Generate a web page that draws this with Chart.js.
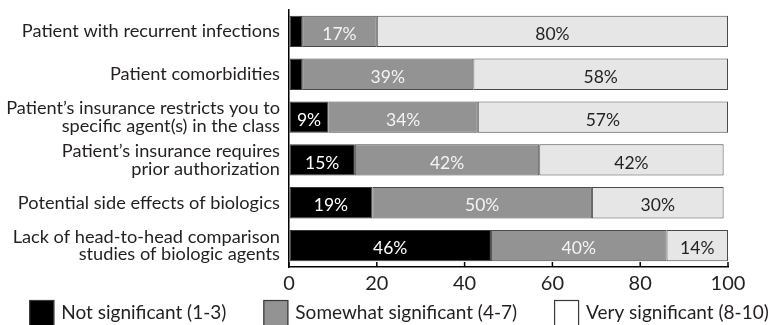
<!DOCTYPE html>
<html>
<head>
<meta charset="utf-8">
<script src="https://cdn.jsdelivr.net/npm/chart.js@4/dist/chart.umd.min.js"></script>
<style>
  html, body { margin: 0; padding: 0; background: #ffffff; overflow: hidden; }
  #wrap { width: 775px; height: 325px; }
</style>
</head>
<body>
<div id="wrap"><canvas id="factors" width="775" height="325"></canvas></div>
<script>
const categories = [
  'Patient with recurrent infections',
  'Patient comorbidities',
  ['Patient\u2019s insurance restricts you to', 'specific agent(s) in the class'],
  ['Patient\u2019s insurance requires', 'prior authorization'],
  'Potential side effects of biologics',
  ['Lack of head-to-head comparison', 'studies of biologic agents']
];

const notSignificant = [3, 3, 9, 15, 19, 46];
const somewhatSignificant = [17, 39, 34, 42, 50, 40];
const verySignificant = [80, 58, 57, 42, 30, 14];

const seriesNames = ['Not significant (1-3)', 'Somewhat significant (4-7)', 'Very significant (8-10)'];
const xTicks = [0, 20, 40, 60, 80, 100];

const FONT = 'Lato, "Noto Sans", sans-serif';
const INK = '#231f20';

// percentage text in the middle of each segment (skip the slivers)
const valueLabels = {
  id: 'valueLabels',
  afterDatasetsDraw(chart) {
    const ctx = chart.ctx;
    ctx.save();
    ctx.font = '17.5px ' + FONT;
    ctx.textAlign = 'center';
    ctx.textBaseline = 'middle';
    chart.data.datasets.forEach((ds, i) => {
      const meta = chart.getDatasetMeta(i);
      meta.data.forEach((bar, j) => {
        const v = ds.data[j];
        if (v < 5) return;
        ctx.fillStyle = ds.labelColor;
        ctx.fillText(v + '%', (bar.x + bar.base) / 2, bar.y + 3);
      });
    });
    ctx.restore();
  }
};

// short tick marks standing up from the bottom axis line
const innerTicks = {
  id: 'innerTicks',
  afterDraw(chart) {
    const scale = chart.scales.x;
    const {ctx, chartArea} = chart;
    ctx.save();
    ctx.strokeStyle = '#000';
    ctx.lineWidth = 1.5;
    scale.ticks.forEach(t => {
      const px = scale.getPixelForValue(t.value);
      ctx.beginPath();
      ctx.moveTo(px, chartArea.bottom);
      ctx.lineTo(px, chartArea.bottom - 5);
      ctx.stroke();
    });
    ctx.restore();
  }
};

// single row legend under the axis
const bottomLegend = {
  id: 'bottomLegend',
  afterDraw(chart, args, opts) {
    const ctx = chart.ctx;
    ctx.save();
    ctx.font = opts.fontSize + 'px ' + FONT;
    const items = chart.data.datasets.map(ds => ({
      text: ds.label,
      fill: ds.legendFill,
      width: opts.boxWidth + opts.boxGap + ctx.measureText(ds.label).width
    }));
    const total = items.reduce((s, it) => s + it.width, 0) + opts.gap * (items.length - 1);
    let x = opts.center - total / 2;
    items.forEach(it => {
      ctx.fillStyle = it.fill;
      ctx.fillRect(x, opts.top, opts.boxWidth, opts.boxHeight);
      ctx.strokeStyle = '#3a3a3a';
      ctx.lineWidth = 1.2;
      ctx.strokeRect(x + 0.5, opts.top + 0.5, opts.boxWidth - 1, opts.boxHeight - 1);
      ctx.fillStyle = INK;
      ctx.textAlign = 'left';
      ctx.textBaseline = 'alphabetic';
      ctx.fillText(it.text, x + opts.boxWidth + opts.boxGap, opts.baseline);
      x += it.width + opts.gap;
    });
    ctx.restore();
  }
};

const ctx = document.getElementById('factors').getContext('2d');

new Chart(ctx, {
  type: 'bar',
  data: {
    labels: categories,
    datasets: [
      {
        label: seriesNames[0],
        data: notSignificant,
        backgroundColor: '#000000',
        borderColor: '#3a3a3a',
        legendFill: '#000000',
        labelColor: '#ffffff'
      },
      {
        label: seriesNames[1],
        data: somewhatSignificant,
        backgroundColor: '#939393',
        borderColor: '#4a4a4a',
        legendFill: '#939393',
        labelColor: '#f4f4f4'
      },
      {
        label: seriesNames[2],
        data: verySignificant,
        backgroundColor: '#e6e6e6',
        borderColor: '#4a4a4a',
        legendFill: '#ffffff',
        labelColor: INK
      }
    ]
  },
  options: {
    indexAxis: 'y',
    responsive: false,
    animation: false,
    devicePixelRatio: 1,
    layout: {
      padding: {top: 10, left: 0, right: 47, bottom: 0}
    },
    datasets: {
      bar: {
        borderWidth: 1,
        borderSkipped: false,
        categoryPercentage: 1,
        barPercentage: 0.73
      }
    },
    plugins: {
      legend: {display: false},
      tooltip: {enabled: false},
      bottomLegend: {
        center: 399,
        top: 300,
        baseline: 319,
        boxWidth: 25,
        boxHeight: 27,
        boxGap: 7,
        gap: 37,
        fontSize: 19
      }
    },
    scales: {
      x: {
        stacked: true,
        min: 0,
        max: 100,
        afterBuildTicks: scale => {
          scale.ticks = xTicks.map(v => ({value: v}));
        },
        afterFit: scale => {
          scale.height = 58;
        },
        grid: {display: true, drawOnChartArea: false, drawTicks: false},
        border: {display: true, color: '#000', width: 1.5},
        ticks: {
          color: INK,
          padding: 5,
          font: {family: FONT, size: 20}
        }
      },
      y: {
        stacked: true,
        afterFit: scale => {
          scale.width = 289;
          scale.paddingTop = 0;
          scale.paddingBottom = 0;
        },
        grid: {display: false, drawTicks: false},
        border: {display: true, color: '#000', width: 1.5},
        ticks: {
          color: INK,
          padding: 9,
          font: {family: FONT, size: 18.2, lineHeight: 0.96}
        }
      }
    }
  },
  plugins: [valueLabels, innerTicks, bottomLegend]
});
</script>
</body>
</html>
